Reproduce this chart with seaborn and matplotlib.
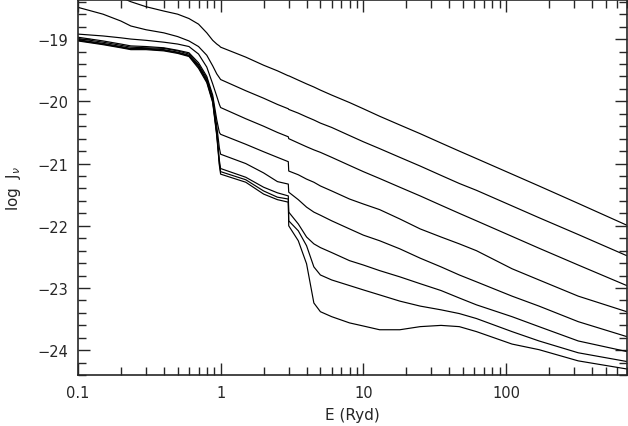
import numpy as np
import pandas as pd
import matplotlib
matplotlib.use("Agg")
import matplotlib.pyplot as plt
import seaborn as sns
from matplotlib.ticker import LogLocator, MultipleLocator, NullFormatter

# energy grid (Ryd) shared by all curves
energy = [0.1, 0.15, 0.2, 0.235, 0.3, 0.4, 0.5, 0.6, 0.7, 0.8, 0.88, 0.94, 0.98, 1.0,
          1.5, 2, 2.5, 2.98, 3.0, 3.5, 4, 4.5, 5, 6, 8, 10, 13, 18, 25, 35, 47, 62,
          110, 170, 320, 700]

# log J_nu for each curve, top to bottom
curve1 = [-18.10, -18.22, -18.33, -18.40, -18.48, -18.55, -18.60, -18.67, -18.76, -18.90, -19.02, -19.08, -19.11, -19.13,
          -19.29, -19.42, -19.51, -19.59, -19.59, -19.66, -19.72, -19.77, -19.82, -19.90, -20.02, -20.12, -20.24, -20.38,
          -20.52, -20.67, -20.80, -20.92, -21.17, -21.36, -21.64, -21.99]
curve2 = [-18.49, -18.60, -18.71, -18.79, -18.85, -18.90, -18.96, -19.03, -19.12, -19.26, -19.43, -19.56, -19.62, -19.65,
          -19.83, -19.95, -20.05, -20.12, -20.13, -20.19, -20.25, -20.30, -20.35, -20.42, -20.55, -20.65, -20.76, -20.90,
          -21.04, -21.19, -21.32, -21.43, -21.68, -21.87, -22.14, -22.48]
curve3 = [-18.92, -18.95, -18.98, -19.00, -19.02, -19.05, -19.08, -19.12, -19.24, -19.45, -19.72, -19.92, -20.05, -20.10,
          -20.28, -20.40, -20.50, -20.57, -20.60, -20.67, -20.73, -20.78, -20.82, -20.90, -21.03, -21.13, -21.24, -21.38,
          -21.52, -21.67, -21.80, -21.92, -22.17, -22.36, -22.63, -22.96]
curve4 = [-18.97, -19.03, -19.08, -19.11, -19.12, -19.14, -19.18, -19.22, -19.38, -19.60, -19.90, -20.30, -20.50, -20.53,
          -20.69, -20.81, -20.90, -20.97, -21.12, -21.18, -21.25, -21.30, -21.36, -21.44, -21.57, -21.65, -21.74, -21.89,
          -22.05, -22.18, -22.29, -22.40, -22.69, -22.87, -23.13, -23.38]
curve5 = [-18.99, -19.05, -19.10, -19.13, -19.14, -19.15, -19.19, -19.24, -19.41, -19.63, -19.94, -20.40, -20.75, -20.85,
          -21.00, -21.15, -21.29, -21.33, -21.46, -21.58, -21.70, -21.78, -21.83, -21.92, -22.05, -22.15, -22.24, -22.37,
          -22.52, -22.66, -22.79, -22.90, -23.13, -23.29, -23.54, -23.78]
curve6 = [-19.01, -19.07, -19.12, -19.15, -19.15, -19.17, -19.21, -19.26, -19.43, -19.66, -19.98, -20.50, -20.95, -21.08,
          -21.22, -21.38, -21.47, -21.52, -21.78, -21.97, -22.18, -22.29, -22.35, -22.43, -22.56, -22.63, -22.72, -22.82,
          -22.93, -23.04, -23.16, -23.27, -23.46, -23.62, -23.85, -24.02]
curve7 = [-19.02, -19.08, -19.13, -19.16, -19.16, -19.18, -19.22, -19.27, -19.45, -19.68, -20.00, -20.53, -21.00, -21.13,
          -21.26, -21.44, -21.54, -21.57, -21.92, -22.08, -22.32, -22.66, -22.79, -22.87, -22.96, -23.03, -23.11, -23.21,
          -23.29, -23.35, -23.41, -23.49, -23.70, -23.85, -24.04, -24.18]
curve8 = [-19.03, -19.09, -19.14, -19.17, -19.17, -19.19, -19.23, -19.28, -19.47, -19.70, -20.02, -20.56, -21.03, -21.17,
          -21.30, -21.49, -21.58, -21.62, -22.00, -22.24, -22.61, -23.24, -23.38, -23.46, -23.56, -23.61, -23.67, -23.67,
          -23.62, -23.60, -23.62, -23.70, -23.90, -23.99, -24.17, -24.30]

curves = [curve1, curve2, curve3, curve4, curve5, curve6, curve7, curve8]
df = pd.concat([pd.DataFrame({"E": energy, "logJ": c, "curve": i}) for i, c in enumerate(curves)],
               ignore_index=True)

sns.set_style("ticks")
plt.rcParams['font.family'] = ['DejaVu Sans']

fig = plt.figure(figsize=(6.28, 4.27), dpi=100)
ax = fig.add_axes([0.124, 0.119, 0.874, 0.879])

sns.lineplot(data=df, x="E", y="logJ", units="curve", estimator=None, sort=False,
             color="black", linewidth=0.85, ax=ax)

ax.set_xscale("log")
ax.set_xlim(0.1, 700)
ax.set_ylim(-24.4, -18.37)

ax.set_xticks([0.1, 1, 10, 100])
ax.set_xticklabels(["0.1", "1", "10", "100"])
ax.xaxis.set_minor_locator(LogLocator(base=10, subs=np.arange(2, 10)))
ax.xaxis.set_minor_formatter(NullFormatter())
ax.set_yticks([-24, -23, -22, -21, -20, -19])
ax.yaxis.set_minor_locator(MultipleLocator(0.2))

ax.tick_params(which="both", direction="in", top=True, right=True, width=1.0, labelsize=10.5, pad=7)
ax.tick_params(which="major", length=8.5)
ax.tick_params(which="minor", length=5.5)
for s in ax.spines.values():
    s.set_linewidth(1.2)

ax.set_xlabel("E (Ryd)", fontsize=11, labelpad=5)
ax.set_ylabel(r"log  J$_\nu$", fontsize=11, labelpad=10)

fig.savefig("out.png", dpi=100)
